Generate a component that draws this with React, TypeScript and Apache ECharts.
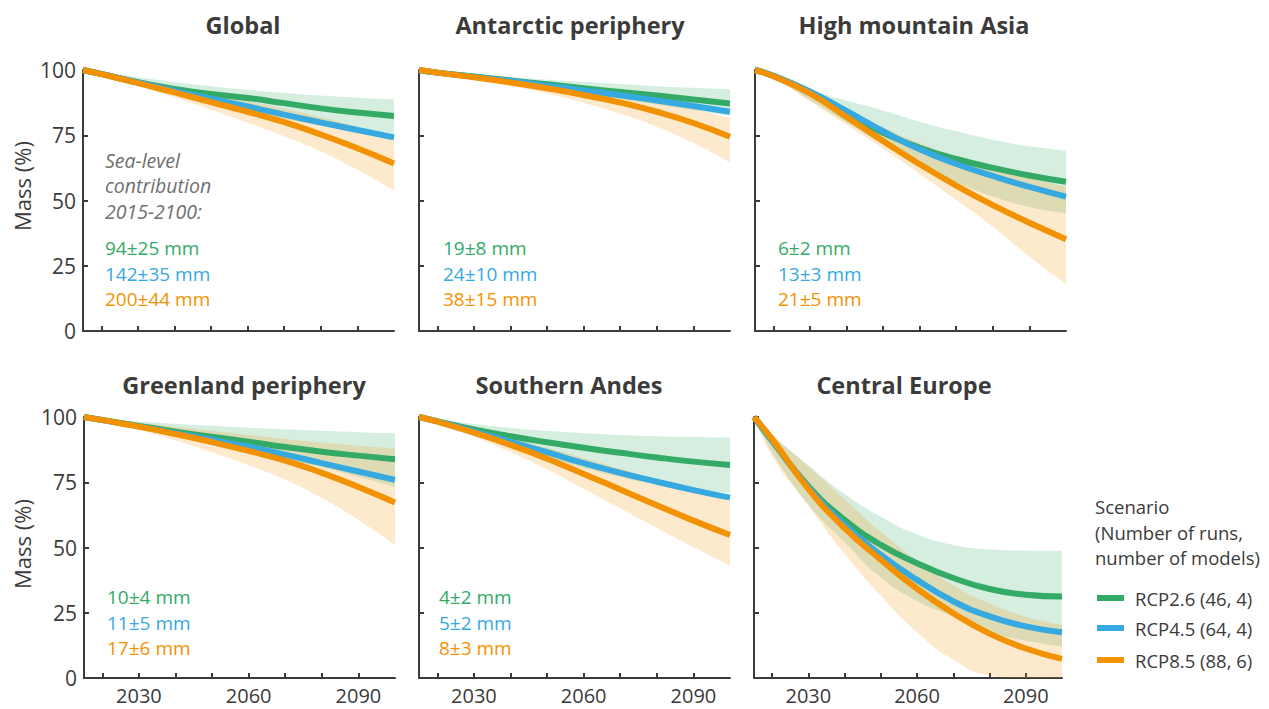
import React, { useEffect, useRef } from "react";
import * as echarts from "echarts";

// ---------- data ----------
const years = [2015, 2020, 2030, 2040, 2050, 2060, 2070, 2080, 2090, 2100];
const xTickValues = [2020, 2030, 2040, 2050, 2060, 2070, 2080, 2090];
const xLabelValues = [2030, 2060, 2090];
const panelTitles = [
  "Global",
  "Antarctic periphery",
  "High mountain Asia",
  "Greenland periphery",
  "Southern Andes",
  "Central Europe",
];
const scenarioNames = ["RCP2.6 (46, 4)", "RCP4.5 (64, 4)", "RCP8.5 (88, 6)"];
const legendHeading = ["Scenario", "(Number of runs,", "number of models)"];
const seaLevelHeading = ["Sea-level", "contribution", "2015-2100:"];

// Global
const globalRcp26 = [100, 98.5, 95.3, 92.7, 90.8, 89.3, 87.3, 85.3, 83.7, 82.4];
const globalRcp45 = [100, 98.5, 95.2, 92.0, 89.0, 86.0, 82.9, 79.9, 77.0, 74.2];
const globalRcp85 = [100, 98.4, 95.0, 91.4, 87.7, 84.0, 80.0, 75.3, 70.0, 64.2];
const global26Upper = [100, 99.0, 97.2, 95.4, 93.8, 92.4, 91.2, 90.2, 89.4, 88.8];
const global26Lower = [100, 98.0, 94.0, 90.5, 87.3, 84.2, 81.3, 78.7, 76.6, 75.0];
const global85Upper = [100, 98.7, 96.0, 93.3, 90.6, 88.0, 85.2, 82.0, 78.3, 74.5];
const global85Lower = [100, 98.0, 94.0, 89.5, 84.8, 79.8, 74.6, 68.8, 61.8, 53.8];
const globalSeaLevel = ["94±25 mm", "142±35 mm", "200±44 mm"];

// Antarctic periphery
const antRcp26 = [100, 99.0, 97.5, 96.0, 94.5, 93.0, 91.6, 90.2, 88.7, 87.2];
const antRcp45 = [100, 99.0, 97.4, 95.8, 94.0, 92.2, 90.3, 88.3, 86.2, 84.0];
const antRcp85 = [100, 99.0, 97.2, 95.2, 93.0, 90.4, 87.5, 84.0, 79.7, 74.4];
const ant26Upper = [100, 99.3, 98.2, 97.2, 96.3, 95.5, 94.6, 93.8, 93.2, 92.6];
const ant26Lower = [100, 98.8, 96.8, 94.8, 92.8, 90.8, 88.8, 86.8, 84.6, 82.5];
const ant85Upper = [100, 99.2, 97.8, 96.3, 94.6, 92.7, 90.5, 88.0, 85.0, 81.5];
const ant85Lower = [100, 98.8, 96.5, 94.0, 91.0, 87.5, 83.3, 78.3, 72.0, 64.5];
const antSeaLevel = ["19±8 mm", "24±10 mm", "38±15 mm"];

// High mountain Asia
const hmaRcp26 = [100, 97.8, 91.5, 83.2, 75.9, 70.2, 65.9, 62.5, 59.6, 57.2];
const hmaRcp45 = [100, 97.8, 91.8, 84.3, 76.6, 69.6, 64.0, 59.4, 55.2, 51.5];
const hmaRcp85 = [100, 97.6, 91.0, 82.0, 72.8, 63.9, 55.7, 48.2, 41.5, 35.2];
const hma26Upper = [100, 98.4, 92.5, 88.3, 84.5, 80.2, 76.5, 73.3, 70.8, 69.1];
const hma26Lower = [100, 97.2, 88.5, 80.0, 71.5, 63.5, 57.0, 51.5, 47.5, 45.1];
const hma85Upper = [100, 97.8, 91.0, 84.5, 78.0, 72.0, 66.5, 62.0, 58.5, 55.3];
const hma85Lower = [100, 97.0, 88.0, 79.0, 69.8, 60.2, 50.2, 40.0, 28.5, 18.0];
const hmaSeaLevel = ["6±2 mm", "13±3 mm", "21±5 mm"];

// Greenland periphery
const grlRcp26 = [100, 98.9, 96.6, 94.4, 92.4, 90.5, 88.5, 86.7, 85.2, 83.8];
const grlRcp45 = [100, 98.8, 96.4, 93.8, 91.3, 88.6, 85.6, 82.3, 79.1, 75.9];
const grlRcp85 = [100, 98.8, 96.3, 93.5, 90.4, 87.0, 83.3, 78.6, 73.2, 67.2];
const grl26Upper = [100, 99.3, 98.3, 97.4, 96.6, 95.9, 95.3, 94.7, 94.2, 93.8];
const grl26Lower = [100, 98.4, 95.3, 92.3, 89.3, 86.3, 83.5, 80.7, 77.0, 73.3];
const grl85Upper = [100, 99.2, 97.8, 96.3, 94.7, 93.1, 91.6, 90.2, 89.0, 88.0];
const grl85Lower = [100, 98.3, 95.0, 91.0, 86.5, 81.5, 76.0, 69.0, 60.5, 51.0];
const grlSeaLevel = ["10±4 mm", "11±5 mm", "17±6 mm"];

// Southern Andes
const sanRcp26 = [100, 98.4, 95.2, 92.6, 90.3, 88.2, 86.3, 84.5, 82.9, 81.6];
const sanRcp45 = [100, 98.3, 94.5, 90.5, 86.5, 82.3, 78.6, 75.2, 72.0, 69.1];
const sanRcp85 = [100, 98.2, 94.0, 89.3, 84.0, 78.2, 72.2, 66.2, 60.3, 54.8];
const san26Upper = [100, 99.0, 97.3, 95.8, 94.7, 93.8, 93.1, 92.6, 92.3, 92.1];
const san26Lower = [100, 98.0, 93.5, 88.8, 84.5, 80.5, 77.0, 74.2, 72.3, 70.8];
const san85Upper = [100, 98.6, 95.5, 92.0, 88.3, 84.3, 80.2, 76.0, 71.8, 67.6];
const san85Lower = [100, 97.8, 92.5, 86.5, 80.0, 72.5, 65.0, 57.5, 50.2, 43.1];
const sanSeaLevel = ["4±2 mm", "5±2 mm", "8±3 mm"];

// Central Europe
const ceuRcp26 = [100, 90.8, 73.5, 60.6, 51.0, 44.0, 38.3, 34.1, 31.9, 31.2];
const ceuRcp45 = [100, 91.0, 73.0, 58.7, 47.2, 37.6, 29.4, 23.6, 19.8, 17.5];
const ceuRcp85 = [100, 91.5, 72.5, 57.4, 45.3, 34.2, 24.8, 17.0, 11.3, 7.3];
const ceu26Upper = [100, 93.0, 81.5, 70.5, 61.8, 55.0, 51.0, 49.3, 48.8, 48.8];
const ceu26Lower = [100, 86.5, 66.5, 52.0, 38.5, 29.5, 23.5, 17.5, 14.3, 12.1];
const ceu85Upper = [100, 93.5, 81.0, 68.5, 56.0, 45.0, 35.5, 28.5, 23.5, 20.4];
const ceu85Lower = [100, 85.0, 66.0, 47.5, 31.5, 17.5, 7.0, 1.0, 0, 0];

// ---------- styling / layout ----------
const FONT = '"Open Sans", "Noto Sans", sans-serif';
const DARK = "#3b3b3b";
const GREY = "#707070";
const GREEN = "#33aa66";
const BLUE = "#36a9e1";
const ORANGE = "#f39200";
const GREEN_BAND = "rgba(51,170,102,0.2)";
const ORANGE_BAND = "rgba(243,146,0,0.2)";
const lineColors = [GREEN, BLUE, ORANGE];

const panels = [
  { lines: [globalRcp26, globalRcp45, globalRcp85], g: [global26Lower, global26Upper], o: [global85Lower, global85Upper] },
  { lines: [antRcp26, antRcp45, antRcp85], g: [ant26Lower, ant26Upper], o: [ant85Lower, ant85Upper] },
  { lines: [hmaRcp26, hmaRcp45, hmaRcp85], g: [hma26Lower, hma26Upper], o: [hma85Lower, hma85Upper] },
  { lines: [grlRcp26, grlRcp45, grlRcp85], g: [grl26Lower, grl26Upper], o: [grl85Lower, grl85Upper] },
  { lines: [sanRcp26, sanRcp45, sanRcp85], g: [san26Lower, san26Upper], o: [san85Lower, san85Upper] },
  { lines: [ceuRcp26, ceuRcp45, ceuRcp85], g: [ceu26Lower, ceu26Upper], o: [ceu85Lower, ceu85Upper] },
];

const gridBoxes = [
  { left: 83, top: 70, width: 311, height: 261 },
  { left: 419, top: 70, width: 311, height: 261 },
  { left: 755, top: 70, width: 311, height: 261 },
  { left: 84, top: 417, width: 311, height: 261 },
  { left: 419, top: 417, width: 311, height: 261 },
  { left: 754, top: 417, width: 308, height: 261 },
];
const titlePos = [
  [243, 25],
  [570, 25],
  [914, 25],
  [244, 385],
  [569, 385],
  [904, 385],
];
const seaLevelTexts = [globalSeaLevel, antSeaLevel, hmaSeaLevel, grlSeaLevel, sanSeaLevel];
const seaLevelPos = [
  [105, [248, 274, 299]],
  [443, [248, 274, 299]],
  [778, [248, 274, 299]],
  [107, [597, 623, 648]],
  [439, [597, 623, 648]],
];

function buildOption() {
  const axisLineStyle = { color: DARK, width: 2 };
  const xAxis = gridBoxes.map((_, i) => ({
    type: "value",
    gridIndex: i,
    min: 2015,
    max: 2100,
    axisLine: { show: true, onZero: false, lineStyle: axisLineStyle },
    axisTick: { show: true, inside: true, length: 5, customValues: xTickValues, lineStyle: axisLineStyle },
    axisLabel: {
      show: i >= 3,
      customValues: xLabelValues,
      formatter: (v: number) => String(v),
      margin: 7,
      fontSize: 20,
      color: DARK,
      fontFamily: FONT,
    },
    splitLine: { show: false },
  }));
  const yAxis = gridBoxes.map((_, i) => ({
    type: "value",
    gridIndex: i,
    min: 0,
    max: 100,
    interval: 25,
    axisLine: { show: true, onZero: false, lineStyle: axisLineStyle },
    axisTick: { show: true, inside: true, length: 5, lineStyle: axisLineStyle },
    axisLabel: { show: i % 3 === 0, margin: 7, fontSize: 21, color: DARK, fontFamily: FONT },
    splitLine: { show: false },
  }));

  const series: any[] = [];
  panels.forEach((p, i) => {
    const bands = [
      { b: p.g, color: GREEN_BAND, key: "g" + i },
      { b: p.o, color: ORANGE_BAND, key: "o" + i },
    ];
    bands.forEach(({ b, color, key }) => {
      const [lower, upper] = b;
      series.push({
        type: "line",
        xAxisIndex: i,
        yAxisIndex: i,
        stack: key,
        encode: { x: 1, y: 0 },
        data: years.map((yr, k) => [lower[k], yr]),
        smooth: true,
        symbol: "none",
        silent: true,
        lineStyle: { opacity: 0, width: 0 },
        z: 1,
      });
      series.push({
        type: "line",
        xAxisIndex: i,
        yAxisIndex: i,
        stack: key,
        encode: { x: 1, y: 0 },
        data: years.map((yr, k) => [upper[k] - lower[k], yr]),
        smooth: true,
        symbol: "none",
        silent: true,
        lineStyle: { opacity: 0, width: 0 },
        areaStyle: { color, opacity: 1 },
        z: 1,
      });
    });
    p.lines.forEach((vals, s) => {
      series.push({
        type: "line",
        name: scenarioNames[s],
        xAxisIndex: i,
        yAxisIndex: i,
        data: years.map((yr, k) => [yr, vals[k]]),
        smooth: true,
        symbol: "none",
        silent: true,
        lineStyle: { color: lineColors[s], width: 6, cap: "butt" },
        z: 3 + s,
      });
    });
  });

  const graphic: any[] = [];
  const txt = (text: string, x: number, y: number, opts: any = {}) => ({
    type: "text",
    x,
    y,
    rotation: opts.rotation || 0,
    silent: true,
    style: {
      text,
      fill: opts.fill || DARK,
      fontFamily: FONT,
      fontSize: opts.size || 19,
      fontWeight: opts.weight || "normal",
      fontStyle: opts.style || "normal",
      align: opts.align || "left",
      textAlign: opts.align || "left",
      verticalAlign: "middle",
      textVerticalAlign: "middle",
    },
  });
  panelTitles.forEach((t, i) => {
    graphic.push(txt(t, titlePos[i][0], titlePos[i][1], { size: 23.5, weight: "bold", align: "center" }));
  });
  graphic.push(txt("Mass (%)", 22, 186, { size: 22, align: "center", rotation: Math.PI / 2 }));
  graphic.push(txt("Mass (%)", 22, 544, { size: 22, align: "center", rotation: Math.PI / 2 }));
  seaLevelHeading.forEach((t, k) => {
    graphic.push(txt(t, 105, [160, 185, 211][k], { fill: GREY, style: "italic", size: 19.5 }));
  });
  seaLevelTexts.forEach((texts, i) => {
    const [x, ys] = seaLevelPos[i] as [number, number[]];
    texts.forEach((t, s) => graphic.push(txt(t, x, ys[s], { fill: lineColors[s] })));
  });
  legendHeading.forEach((t, k) => {
    graphic.push(txt(t, 1095, [506, 532, 557][k], { size: 18.5 }));
  });
  const legendY = [598, 628, 660];
  scenarioNames.forEach((name, s) => {
    graphic.push({
      type: "rect",
      silent: true,
      shape: { x: 1097, y: legendY[s] - 3, width: 27, height: 6 },
      style: { fill: lineColors[s] },
    });
    graphic.push(txt(name, 1135, legendY[s], { size: 18.5 }));
  });

  return {
    animation: false,
    backgroundColor: "#ffffff",
    grid: gridBoxes.map((g) => ({ ...g, containLabel: false })),
    xAxis,
    yAxis,
    series,
    graphic,
  };
}

export default function App() {
  const ref = useRef<HTMLDivElement>(null);
  useEffect(() => {
    if (!ref.current) return;
    const chart = echarts.init(ref.current, null, { renderer: "svg" });
    chart.setOption(buildOption() as any);
    return () => chart.dispose();
  }, []);
  return (
    <div
      ref={ref}
      style={{ position: "fixed", left: 0, top: 0, width: 1269, height: 709, background: "#fff" }}
    />
  );
}
